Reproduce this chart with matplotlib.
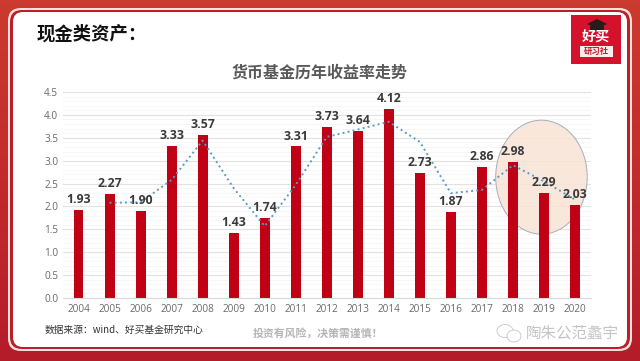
import matplotlib
matplotlib.use('Agg')
import matplotlib.pyplot as plt
import numpy as np
from matplotlib.colors import LinearSegmentedColormap
from matplotlib.patches import Ellipse, FancyBboxPatch, Polygon, Rectangle

plt.rcParams['font.family'] = ['Noto Sans CJK SC', 'DejaVu Sans']

years = ['2004', '2005', '2006', '2007', '2008', '2009', '2010', '2011', '2012',
         '2013', '2014', '2015', '2016', '2017', '2018', '2019', '2020']
returns = [1.93, 2.27, 1.90, 3.33, 3.57, 1.43, 1.74, 3.31, 3.73,
           3.64, 4.12, 2.73, 1.87, 2.86, 2.98, 2.29, 2.03]
# dotted trend line (starts at 2005)
trend = [2.08, 2.09, 2.58, 3.44, 2.40, 1.57, 2.47, 3.52,
         3.68, 3.85, 3.41, 2.29, 2.36, 2.90, 2.55, 2.15]
y_ticks = [0.0, 0.5, 1.0, 1.5, 2.0, 2.5, 3.0, 3.5, 4.0, 4.5]

W, H = 640, 361
fig = plt.figure(figsize=(W / 100, H / 100), dpi=100)

# background, in pixel coordinates
bg = fig.add_axes([0, 0, 1, 1])
bg.set_xlim(0, W)
bg.set_ylim(H, 0)
bg.axis('off')
frame_cmap = LinearSegmentedColormap.from_list('frame', ['#CB3A2E', '#C22B2C', '#B41C2A'])
bg.imshow(np.linspace(0, 1, 64).reshape(-1, 1), cmap=frame_cmap, aspect='auto', extent=[0, W, H, 0])
bg.set_xlim(0, W)
bg.set_ylim(H, 0)

def panel(x0, y0, x1, y1, r, color):
    bg.add_patch(FancyBboxPatch((x0 + r, y0 + r), x1 - x0 - 2 * r, y1 - y0 - 2 * r,
                                boxstyle='round,pad=%f,rounding_size=%f' % (r, r),
                                fc=color, ec='none'))

panel(8, 8, 632, 351, 13, '#F6E4DC')
panel(10, 10, 630, 349, 12, '#BC1F2B')
panel(13, 12, 627, 347, 10, 'white')

bg.text(37, 34, '现金类资产：', fontsize=13.2, fontweight='bold', color='#111111', va='center', ha='left')
bg.text(319, 72.5, '货币基金历年收益率走势', fontsize=11.5, fontweight='bold', color='#595959', va='center', ha='center')
bg.text(45, 330, '数据来源：wind、好买基金研究中心', fontsize=7.0, color='#333333', va='center', ha='left')
bg.text(317.5, 333, '投资有风险，决策需谨慎！', fontsize=7.8, fontweight='bold', color='#B5B5B5', va='center', ha='center')

# logo
bg.add_patch(Rectangle((571, 15), 50, 49, fc='#D5122B', ec='none'))
bg.add_patch(Polygon([(597, 19), (607, 24), (597, 28.5), (587, 24)], fc='#2A1A1A', ec='none'))
bg.add_patch(Polygon([(590, 26), (604, 26), (604, 30), (597, 31), (590, 30)], fc='#2A1A1A', ec='none'))
bg.text(596, 37.5, '好买', fontsize=10.2, fontweight='bold', color='white', va='center', ha='center')
bg.add_patch(Rectangle((579.5, 46), 33, 10.5, fc='#F8EDEC', ec='none'))
bg.text(596, 51, '研习社', fontsize=6, fontweight='bold', color='#C8162B', va='center', ha='center')

# watermark
bg.add_patch(Ellipse((505, 331), 16, 13, fc='white', ec='#C4C4C4', lw=0.6))
bg.add_patch(Ellipse((514, 336), 14, 12, fc='white', ec='#C4C4C4', lw=0.6))
bg.text(572, 333, '陶朱公范蠡宇', fontsize=11.2, color='#C4C4C4', va='center', ha='center')

# chart
left, right, top, bottom = 63, 590.5, 92, 298
ax = fig.add_axes([left / W, 1 - bottom / H, (right - left) / W, (bottom - top) / H])
ax.patch.set_alpha(0)
x = np.arange(len(years))

ax.set_yticks(y_ticks)
ax.set_yticks(np.arange(0, 4.55, 0.1), minor=True)
ax.grid(True, axis='y', which='minor', color='#F6F6F6', lw=0.6, zorder=0)
ax.grid(True, axis='y', which='major', color='#E2E2E2', lw=0.8, zorder=0)
ax.set_axisbelow(True)

ax.add_patch(Ellipse((14.92, 2.64), 2.95, 2.49, fc='#F9E4D6', ec='#9AA5B4', lw=0.7, alpha=0.88, zorder=1.5, clip_on=False))
ax.bar(x, returns, width=0.32, color='#C00015', zorder=2)
ax.plot(x[1:], trend, ':', color='#5B9BC9', lw=1.4, zorder=3)

for xi, v in zip(x, returns):
    ax.annotate('%.2f' % v, (xi, v), xytext=(0, 7.5), textcoords='offset points', ha='center', va='center',
                fontsize=8.8, fontweight='bold', color='#3A3A3A', family=['Open Sans', 'DejaVu Sans'], zorder=4)

ax.set_xlim(-0.5, 16.5)
ax.set_ylim(0, 4.5)
ax.set_xticks(x)
ax.set_xticklabels(years)
ax.tick_params(axis='both', which='both', length=0)
ax.tick_params(axis='x', pad=4)
ax.tick_params(axis='y', pad=3.5)
for lab in ax.get_xticklabels() + ax.get_yticklabels():
    lab.set_family(['Open Sans', 'DejaVu Sans'])
    lab.set_fontsize(7.2)
    lab.set_color('#6A6A6A')
for name in ['top', 'left', 'right']:
    ax.spines[name].set_visible(False)
ax.spines['bottom'].set_color('#D9D9D9')
ax.spines['bottom'].set_linewidth(0.8)

fig.savefig('out.png', dpi=100)
